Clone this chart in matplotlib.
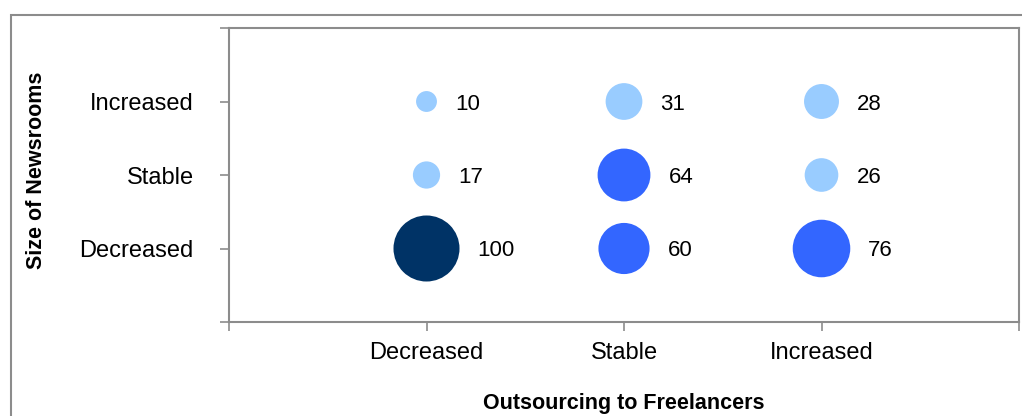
import numpy as np
import matplotlib
matplotlib.use('Agg')
import matplotlib.pyplot as plt
from matplotlib.patches import Rectangle

plt.rcParams['font.family'] = ['Liberation Sans', 'DejaVu Sans']

# outsourcing (x) vs newsroom size (y), bubble value = relative count
levels = ['Decreased', 'Stable', 'Increased']
outsourcing = ['Decreased', 'Decreased', 'Decreased', 'Stable', 'Stable', 'Stable',
               'Increased', 'Increased', 'Increased']
newsrooms = ['Increased', 'Stable', 'Decreased', 'Increased', 'Stable', 'Decreased',
             'Increased', 'Stable', 'Decreased']
values = [10, 17, 100, 31, 64, 60, 28, 26, 76]

light = '#99CCFF'
mid = '#3366FF'
dark = '#003366'
grey = '#8c8c8c'


def bubble_color(v):
    if v >= 100:
        return dark
    if v >= 50:
        return mid
    return light


fig = plt.figure(figsize=(10.22, 4.16), dpi=100)

# outer chart frame
fig.patches.append(Rectangle((10.5 / 1022, -0.1), 1.2, 1 - 15 / 416 + 0.1,
                             transform=fig.transFigure, fill=False,
                             edgecolor=grey, linewidth=1.5))

ax = fig.add_axes([229 / 1022, 1 - 322 / 416, 790 / 1022, 294 / 416])

x = np.array([levels.index(v) + 1 for v in outsourcing])
y = np.array([levels.index(v) + 1 for v in newsrooms])
vals = np.array(values)

scale = 22.6  # points^2 per unit value
sizes = vals * scale
ax.scatter(x, y, s=sizes, c=[bubble_color(v) for v in vals], linewidths=0, zorder=3)

for xi, yi, v, s in zip(x, y, vals, sizes):
    r = np.sqrt(s) / 2
    ax.annotate(str(v), (xi, yi), xytext=(r + 13, 0), textcoords='offset points',
                va='center_baseline', ha='left', fontsize=16, color='black')

ax.set_xlim(0, 4)
ax.set_ylim(0, 4)
ax.set_xticks(range(5))
ax.set_yticks(range(5))
ax.set_xticklabels([''] + levels + [''], fontsize=17)
ax.set_yticklabels([''] + levels + [''], fontsize=17)
ax.tick_params(axis='both', direction='out', length=6.5, width=1.2, color=grey)
ax.tick_params(axis='x', pad=8)
ax.tick_params(axis='y', pad=19)

for sp in ax.spines.values():
    sp.set_color(grey)
    sp.set_linewidth(1.5)

fig.text(624 / 1022, 1 - 404 / 416, 'Outsourcing to Freelancers', ha='center', va='center',
         fontsize=15.5, fontweight='bold')
fig.text(37 / 1022, 1 - 170 / 416, 'Size of Newsrooms', ha='center', va='center',
         rotation=90, fontsize=15.5, fontweight='bold')

fig.savefig('out.png', dpi=100)
